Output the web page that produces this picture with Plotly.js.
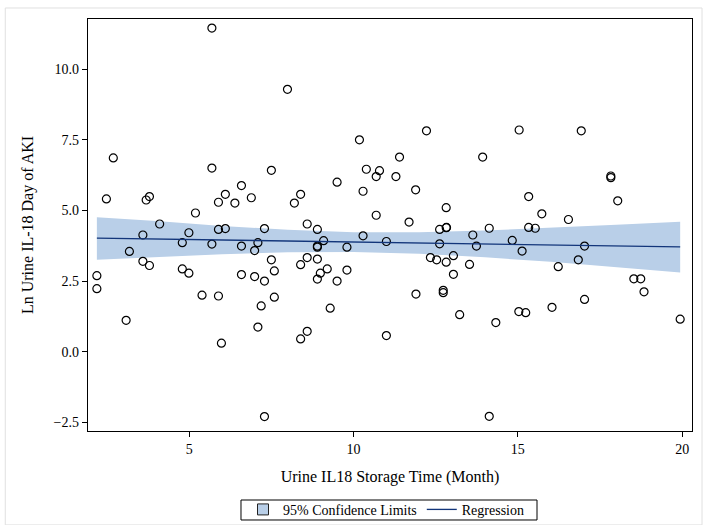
<!DOCTYPE html>
<html>
<head>
<meta charset="utf-8">
<script src="https://cdn.plot.ly/plotly-3.0.1.min.js"></script>
<style>
html,body{margin:0;padding:0;background:#fff;}
#chart{width:704px;height:525px;}
</style>
</head>
<body>
<div id="chart"></div>
<script>
// Observed points: storage time (month) and Ln urine IL-18
const storageMonth = [
  2.19,2.19,2.48,2.69,3.08,3.18,3.59,3.59,3.69,3.79,3.79,4.10,4.79,4.79,4.99,4.99,5.19,5.39,5.69,5.69,
  5.69,5.89,5.89,5.89,5.98,6.10,6.10,6.39,6.59,6.59,6.59,6.89,6.99,6.99,7.09,7.09,7.19,7.29,7.29,7.29,
  7.50,7.50,7.59,7.59,7.99,8.20,8.39,8.39,8.39,8.59,8.59,8.59,8.90,8.90,8.90,8.90,8.90,8.99,9.09,9.20,
  9.29,9.50,9.50,9.80,9.80,10.18,10.29,10.29,10.39,10.69,10.69,10.79,11.00,11.00,11.29,11.40,11.69,11.89,11.90,12.22,
  12.34,12.53,12.62,12.62,12.73,12.73,12.82,12.82,12.83,12.82,13.04,13.04,13.23,13.53,13.63,13.74,13.93,14.13,14.13,14.33,
  14.83,15.04,15.03,15.13,15.24,15.33,15.33,15.53,15.73,16.04,16.23,16.54,16.84,16.93,17.03,17.03,17.83,17.83,18.04,18.53,
  18.74,18.84,19.94
];
const lnIL18 = [
  2.69,2.23,5.41,6.86,1.11,3.55,4.13,3.20,5.37,5.49,3.05,4.52,3.86,2.93,4.21,2.78,4.91,2.00,11.46,6.50,
  3.81,5.29,4.33,1.97,0.30,5.57,4.36,5.26,5.88,3.74,2.73,5.45,3.58,2.66,3.86,0.87,1.62,4.36,2.50,-2.30,
  6.42,3.25,2.86,1.93,9.29,5.26,5.57,3.08,0.45,4.52,3.33,0.72,4.33,3.74,3.70,3.28,2.57,2.78,3.93,2.93,
  1.54,6.00,2.50,3.70,2.89,7.50,5.68,4.10,6.46,6.20,4.83,6.41,3.90,0.57,6.20,6.89,4.59,5.73,2.04,7.82,
  3.33,3.25,4.33,3.82,2.17,2.09,5.10,4.39,4.40,3.17,3.40,2.74,1.31,3.09,4.13,3.74,6.89,4.37,-2.29,1.03,
  3.94,7.85,1.42,3.56,1.38,5.49,4.40,4.37,4.88,1.57,3.01,4.68,3.25,7.82,3.74,1.85,6.22,6.16,5.34,2.58,
  2.58,2.12,1.15
];

// Fitted regression line and 95% confidence limits
const fitX     = [2.19, 4, 6, 8, 10, 12, 14, 16, 18, 19.94];
const fitY     = [4.02, 3.99, 3.95, 3.92, 3.88, 3.85, 3.81, 3.78, 3.74, 3.71];
const upperCL  = [4.76, 4.63, 4.45, 4.32, 4.23, 4.23, 4.29, 4.38, 4.49, 4.60];
const lowerCL  = [3.25, 3.35, 3.45, 3.52, 3.53, 3.47, 3.34, 3.18, 3.00, 2.80];

const xTicks = [5, 10, 15, 20];
const yTicks = [-2.5, 0, 2.5, 5, 7.5, 10];

const serif = 'Liberation Serif, Times New Roman, serif';
const bandColor = '#b9cfe8';

const traces = [
  {x: fitX, y: lowerCL, type: 'scatter', mode: 'lines', line: {width: 0, color: 'rgba(0,0,0,0)'},
   showlegend: false, hoverinfo: 'skip'},
  {x: fitX, y: upperCL, type: 'scatter', mode: 'lines', fill: 'tonexty', fillcolor: bandColor,
   line: {width: 0, color: bandColor}, showlegend: false},
  // legend swatch for the band (square, as in the original legend)
  {x: [null], y: [null], type: 'scatter', mode: 'markers', name: '95% Confidence Limits',
   marker: {symbol: 'square', size: 11, color: bandColor, line: {width: 1, color: '#222'}}},
  {x: storageMonth, y: lnIL18, type: 'scatter', mode: 'markers', showlegend: false,
   marker: {symbol: 'circle-open', size: 8, color: '#000', line: {width: 1.2, color: '#000'}}},
  {x: fitX, y: fitY, type: 'scatter', mode: 'lines', line: {color: '#12357a', width: 1.3}, name: 'Regression'}
];

const layout = {
  width: 704, height: 525,
  margin: {l: 88, r: 12, t: 19, b: 94},
  paper_bgcolor: '#fff', plot_bgcolor: '#fff',
  font: {family: serif, color: '#000', size: 14},
  xaxis: {
    range: [1.92, 20.30], tickvals: xTicks, ticks: 'outside', ticklen: 5, tickwidth: 1, tickcolor: '#000',
    showline: true, linecolor: '#000', linewidth: 1.3, mirror: true, showgrid: false, zeroline: false,
    automargin: false,
    tickfont: {family: serif, size: 14},
    title: {text: 'Urine IL18 Storage Time (Month)', font: {family: serif, size: 16}, standoff: 14}
  },
  yaxis: {
    range: [-2.81, 11.78], tickvals: yTicks, tickformat: '.1f', ticks: 'outside', ticklen: 5, tickwidth: 1, tickcolor: '#000',
    showline: true, linecolor: '#000', linewidth: 1.3, mirror: true, showgrid: false, zeroline: false,
    automargin: false,
    tickfont: {family: serif, size: 14},
    title: {text: 'Ln Urine IL-18 Day of AKI', font: {family: serif, size: 16}, standoff: 16}
  },
  legend: {
    orientation: 'h', x: 0.4934, xanchor: 'center', xref: 'paper',
    y: 0.0594, yanchor: 'top', yref: 'container',
    borderwidth: 0, bgcolor: 'rgba(0,0,0,0)',
    font: {family: serif, size: 14}, traceorder: 'normal', itemwidth: 30
  },
  shapes: [
    {type: 'rect', xref: 'paper', yref: 'paper', x0: -0.137, x1: 1.0166, y0: -0.228, y1: 1.0267,
     line: {color: '#e0e0e0', width: 1}, layer: 'below'},
    // legend frame
    {type: 'rect', xref: 'paper', yref: 'paper', x0: 0.2533, x1: 0.7434, y0: -0.216, y1: -0.1675,
     line: {color: '#000', width: 1}, fillcolor: '#fff', layer: 'below'}
  ],
  showlegend: true
};

Plotly.newPlot('chart', traces, layout, {displayModeBar: false, staticPlot: true});
</script>
</body>
</html>
